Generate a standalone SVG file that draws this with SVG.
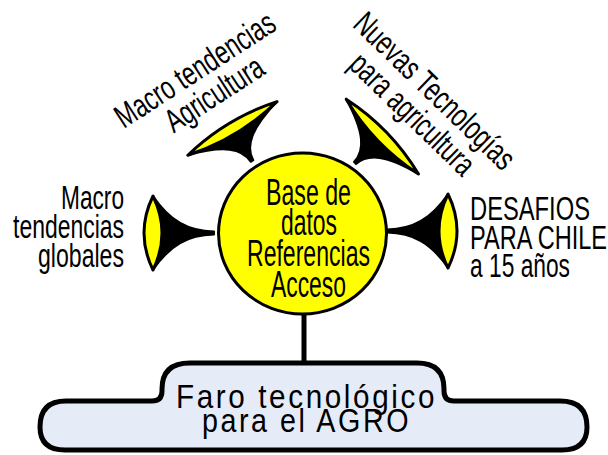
<svg xmlns="http://www.w3.org/2000/svg" width="608" height="455" viewBox="0 0 608 455">
  <style>
    .t { font-family: "Liberation Sans", Arial, sans-serif; fill: #000; }
    .horn-body { fill: #000; stroke: #000; stroke-width: 2; stroke-linejoin: round; }
    .horn-lens { fill: #FFFF00; stroke: #000; stroke-width: 3; stroke-linejoin: round; }
  </style>
  <defs>
    <g id="hornSide">
      <path class="horn-body" d="M -61,-37 C -44,-12 -26,-2 0,-1.5 L 0,1.5 C -26,2 -44,12 -61,37 Z"/>
      <path class="horn-lens" d="M -61,-37 Q -79,0 -61,37 Q -43,0 -61,-37 Z"/>
    </g>
    <g id="hornTop">
      <path class="horn-body" d="M -38,-52 C -28,-16 -16,-2 0,-1.5 L 0,1.5 C -16,2 -28,16 -38,52 Z"/>
      <path class="horn-lens" d="M -38,-52 Q -50,0 -38,52 Q -26,0 -38,-52 Z"/>
    </g>
  </defs>

  <g id="connectors">
    <line x1="304" y1="312" x2="304" y2="364" stroke="#000" stroke-width="5"/>
    <g id="horn-left"><use href="#hornSide" transform="translate(214,233)"/></g>
    <g id="horn-right"><use href="#hornSide" transform="translate(387,231) rotate(180)"/></g>
    <g id="horn-topleft"><use href="#hornTop" transform="translate(252,161) rotate(59)"/></g>
    <g id="horn-topright"><use href="#hornTop" transform="translate(355,163) rotate(136)"/></g>
  </g>

  <g id="node-base">
    <ellipse cx="302.5" cy="233.5" rx="84" ry="80.5" fill="#FFFF00" stroke="#000" stroke-width="3"/>
    <text class="t" font-size="36" x="266" y="204.5" textLength="85" lengthAdjust="spacingAndGlyphs">Base de</text>
    <text class="t" font-size="36" x="281" y="234.5" textLength="56" lengthAdjust="spacingAndGlyphs">datos</text>
    <text class="t" font-size="36" x="247" y="265.5" textLength="123" lengthAdjust="spacingAndGlyphs">Referencias</text>
    <text class="t" font-size="36" x="271" y="297" textLength="75" lengthAdjust="spacingAndGlyphs">Acceso</text>
  </g>

  <g id="node-macro-globales">
    <text class="t" font-size="34" x="61" y="209" textLength="63" lengthAdjust="spacingAndGlyphs">Macro</text>
    <text class="t" font-size="34" x="13" y="238" textLength="111" lengthAdjust="spacingAndGlyphs">tendencias</text>
    <text class="t" font-size="34" x="38" y="267" textLength="86" lengthAdjust="spacingAndGlyphs">globales</text>
  </g>

  <g id="node-desafios">
    <text class="t" font-size="33" x="470" y="220" textLength="120" lengthAdjust="spacingAndGlyphs">DESAFIOS</text>
    <text class="t" font-size="33" x="470" y="248.5" textLength="137" lengthAdjust="spacingAndGlyphs">PARA CHILE</text>
    <text class="t" font-size="33" x="470" y="277" textLength="100" lengthAdjust="spacingAndGlyphs">a 15 años</text>
  </g>

  <g id="node-macro-agricultura" transform="translate(201,79) rotate(-33)">
    <text class="t" font-size="33" x="-92" y="0" textLength="184" lengthAdjust="spacingAndGlyphs">Macro tendencias</text>
    <text class="t" font-size="33" x="-52.5" y="31" textLength="111" lengthAdjust="spacingAndGlyphs">Agricultura</text>
  </g>

  <g id="node-nuevas" transform="translate(427,99) rotate(44)">
    <text class="t" font-size="33" x="-105" y="0" textLength="210" lengthAdjust="spacingAndGlyphs">Nuevas Tecnologías</text>
    <text class="t" font-size="33" x="-80" y="32" textLength="160" lengthAdjust="spacingAndGlyphs">para agricultura</text>
  </g>

  <g id="node-faro">
    <path d="M 66,401 L 152,401 Q 162,401 162,391 L 162,389 Q 162,363 190,363 L 417,363 Q 444,363 444,389 L 444,391 Q 444,401 454,401 L 560,401 Q 587,401 587,427 Q 587,450 562,450 L 65,450 Q 40,450 40,427 Q 40,401 66,401 Z" fill="#E6ECF7" stroke="#000" stroke-width="5" stroke-linejoin="round"/>
    <text class="t" font-size="34" x="176" y="408" letter-spacing="3" textLength="261" lengthAdjust="spacingAndGlyphs">Faro tecnológico</text>
    <text class="t" font-size="34" x="202" y="432" letter-spacing="3" textLength="209" lengthAdjust="spacingAndGlyphs">para el AGRO</text>
  </g>
</svg>
